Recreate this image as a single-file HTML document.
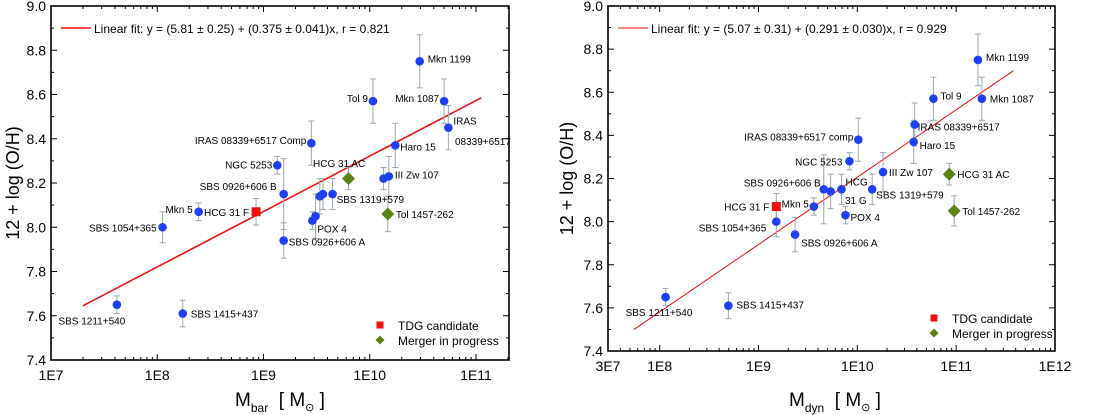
<!DOCTYPE html>
<html><head><meta charset="utf-8"><style>
html,body{margin:0;padding:0;background:#fff;}
svg{display:block;font-family:"Liberation Sans",Arial,sans-serif;}
</style></head><body>
<svg id="chart" width="1096" height="415" viewBox="0 0 1096 415" xmlns="http://www.w3.org/2000/svg"></svg>
<script>
// ---------- Left panel data ----------
const leftNames = ["SBS 1211+540","SBS 1415+437","SBS 1054+365","Mkn 5","NGC 5253","SBS 0926+606 B","SBS 0926+606 A","IRAS 08339+6517 Comp","POX 4","POX 4 b","SBS 1319+579 a","SBS 1319+579 b","SBS 1319+579","Tol 9","III Zw 107 a","III Zw 107","Haro 15","Mkn 1199","Mkn 1087","IRAS"];
const leftLogM = [7.62,8.24,8.05,8.39,9.13,9.19,9.19,9.45,9.46,9.49,9.53,9.56,9.65,10.03,10.13,10.18,10.24,10.47,10.70,10.74];
const leftOH =   [7.65,7.61,8.00,8.07,8.28,8.15,7.94,8.38,8.03,8.05,8.14,8.15,8.15,8.57,8.22,8.23,8.37,8.75,8.57,8.45];
const leftErr =  [0.04,0.06,0.07,0.04,0.04,0.16,0.08,0.10,0.04,0.10,0.08,0.07,0.07,0.10,0.05,0.09,0.10,0.12,0.10,0.10];
const leftTdgLogM = [8.93];
const leftTdgOH = [8.07];
const leftTdgErr = [0.06];
const leftMergerLogM = [9.80,10.17];
const leftMergerOH = [8.22,8.06];
const leftMergerErr = [0.05,0.08];
const leftFitX = [7.30,11.05];
const leftFitY = [7.645,8.585];

// ---------- Right panel data ----------
const rightNames = ["SBS 1211+540","SBS 1415+437","SBS 1054+365","SBS 0926+606 A","Mkn 5","SBS 0926+606 B","SBS 0926+606 b2","HCG","POX 4","NGC 5253","IRAS 08339+6517 comp","SBS 1319+579","III Zw 107","Haro 15","IRAS 08339+6517","Tol 9","Mkn 1199","Mkn 1087"];
const rightLogM = [8.06,8.695,9.18,9.37,9.56,9.66,9.73,9.84,9.88,9.92,10.01,10.15,10.26,10.57,10.58,10.77,11.22,11.26];
const rightOH =   [7.65,7.61,8.00,7.94,8.07,8.15,8.14,8.15,8.03,8.28,8.38,8.15,8.23,8.37,8.45,8.57,8.75,8.57];
const rightErr =  [0.04,0.06,0.07,0.08,0.04,0.16,0.08,0.07,0.04,0.04,0.10,0.07,0.09,0.10,0.10,0.10,0.12,0.10];
const rightTdgLogM = [9.18];
const rightTdgOH = [8.07];
const rightTdgErr = [0.06];
const rightMergerLogM = [10.93,10.98];
const rightMergerOH = [8.22,8.05];
const rightMergerErr = [0.05,0.07];
const rightFitX = [7.74,11.58];
const rightFitY = [7.50,8.70];

const yTicks = ["7.4","7.6","7.8","8.0","8.2","8.4","8.6","8.8","9.0"];
const leftXTicks = ["1E7","1E8","1E9","1E10","1E11"];
const rightXTicks = ["3E7","1E8","1E9","1E10","1E11","1E12"];

const leftLabelStyle = [[-25,20,"middle"],[8,4,"start"],[-6,4,"end"],[-6,1,"end"],[-5,3,"end"],[-7,-4,"end"],[5,5,"start"],[-5,1,"end"],[5,12,"start"],null,null,null,[4,9,"start"],[-5,1,"end"],null,[6,2,"start"],[5,5,"start"],[8,1,"start"],[-5,1,"end"],[5,-3,"start"]];
const rightLabelStyle = [[-40,19,"start"],[8,3,"start"],[-10,10,"end"],[6,12,"start"],[-5,1,"end"],[-3,-3,"end"],null,[4,-4,"start"],[5,6,"start"],[-7,4,"end"],[-5,1,"end"],[4,9,"start"],[6,4,"start"],[6,7,"start"],[3,6,"start"],[7,1,"start"],[8,1,"start"],[8,4,"start"]];

const svg = document.getElementById('chart');
const NS = "http://www.w3.org/2000/svg";
function mk(tag, attrs, parent){const e=document.createElementNS(NS,tag);for(const k in attrs)e.setAttribute(k,attrs[k]);(parent||svg).appendChild(e);return e;}

function panel(cfg){
  const g = mk('g',{});
  
  
  const X = v => cfg.x0 + (v - cfg.xmin)/(cfg.xmax - cfg.xmin)*(cfg.x1 - cfg.x0);
  const Y = v => cfg.y1 - (v - 7.4)/(1.6)*(cfg.y1 - cfg.y0);
  const fr = mk('rect',{x:cfg.x0,y:cfg.y0,width:cfg.x1-cfg.x0,height:cfg.y1-cfg.y0,fill:'none',stroke:'#000','stroke-width':1.6},g);
  
  
  for(let i=0;i<yTicks.length;i++){
    const v = parseFloat(yTicks[i]); const y = Y(v);
    mk('line',{x1:cfg.x0,x2:cfg.x0+6,y1:y,y2:y,stroke:'#000','stroke-width':1},g);
    mk('line',{x1:cfg.x1,x2:cfg.x1-6,y1:y,y2:y,stroke:'#000','stroke-width':1},g);
    if(i<yTicks.length-1){const ym=Y(v+0.1);
      mk('line',{x1:cfg.x0,x2:cfg.x0+3,y1:ym,y2:ym,stroke:'#000'},g);
      mk('line',{x1:cfg.x1,x2:cfg.x1-3,y1:ym,y2:ym,stroke:'#000'},g);}
    const t = mk('text',{x:cfg.x0-5,y:y+5,'text-anchor':'end','font-size':14,fill:'#000'},g);
    t.textContent = yTicks[i];
    
    
  }
  for(let d=Math.floor(cfg.xmin); d<=Math.ceil(cfg.xmax); d++){
    for(let m=1;m<=9;m++){
      const lv = d + Math.log10(m);
      if(lv < cfg.xmin-1e-6 || lv > cfg.xmax+1e-6) continue;
      const x = X(lv); const len = m===1?6:3;
      mk('line',{x1:x,x2:x,y1:cfg.y1,y2:cfg.y1-len,stroke:'#000'},g);
      mk('line',{x1:x,x2:x,y1:cfg.y0,y2:cfg.y0+len,stroke:'#000'},g);
    }
  }
  for(const lbl of cfg.xTicks){
    const v = Math.log10(parseFloat(lbl));
    const t = mk('text',{x:X(v),y:cfg.y1+20,'text-anchor':'middle','font-size':14,fill:'#000'},g);
    t.textContent = lbl;
    
    
  }
  const yt = mk('text',{x:0,y:0,transform:`translate(${cfg.ytx},${(cfg.y0+cfg.y1)/2}) rotate(-90)`,'text-anchor':'middle','font-size':18,fill:'#000'},g);
  yt.textContent = "12 + log (O/H)";
  
  
  const xt = mk('text',{x:cfg.xtx,y:406,'text-anchor':'middle','font-size':19,fill:'#000'},g);
  xt.innerHTML = `M<tspan font-size="12" dy="6">${cfg.sub}</tspan><tspan dy="-6" xml:space="preserve">  [ M</tspan><tspan font-size="11" dy="5">⊙</tspan><tspan dy="-5" xml:space="preserve"> ]</tspan>`;
  
  
  const fl = mk('line',{x1:X(cfg.fitX[0]),y1:Y(cfg.fitY[0]),x2:X(cfg.fitX[1]),y2:Y(cfg.fitY[1]),stroke:'#f01010','stroke-width':cfg.fitW},g);
  
  
  const lx = cfg.x0+10, ly = 28;
  const ll = mk('line',{x1:lx,x2:lx+30,y1:ly,y2:ly,stroke:'#f01010','stroke-width':cfg.fitW},g);
  
  
  const lt = mk('text',{x:lx+33,y:ly+5,'font-size':12,fill:'#000'},g);
  lt.textContent = cfg.fitText;
  
  
  function errbar(x,y,e){
    const c='#9aa8b0';
    mk('line',{x1:X(x),x2:X(x),y1:Y(y-e),y2:Y(y+e),stroke:c,'stroke-width':1},g);
    mk('line',{x1:X(x)-3,x2:X(x)+3,y1:Y(y-e),y2:Y(y-e),stroke:c},g);
    mk('line',{x1:X(x)-3,x2:X(x)+3,y1:Y(y+e),y2:Y(y+e),stroke:c},g);
  }
  for(let i=0;i<cfg.xs.length;i++) errbar(cfg.xs[i],cfg.ys[i],cfg.es[i]);
  for(let i=0;i<cfg.mx.length;i++) errbar(cfg.mx[i],cfg.my[i],cfg.me[i]);
  for(let i=0;i<cfg.tx.length;i++) errbar(cfg.tx[i],cfg.ty[i],cfg.te[i]);
  for(let i=0;i<cfg.xs.length;i++){
    const c = mk('circle',{cx:X(cfg.xs[i]),cy:Y(cfg.ys[i]),r:4.3,fill:'#1f3ff5'},g);
    
    
    const st = cfg.lab[i];
    if(st){
      const t = mk('text',{x:X(cfg.xs[i])+st[0],y:Y(cfg.ys[i])+st[1],'text-anchor':st[2],'font-size':10,fill:'#000'},g);
      t.textContent = cfg.names[i].replace(/ (a|b|b2)$/,'');
      
      
    }
  }
  for(let i=0;i<cfg.mx.length;i++){
    const x=X(cfg.mx[i]), y=Y(cfg.my[i]);
    const d = mk('polygon',{points:`${x},${y-6.5} ${x+6.5},${y} ${x},${y+6.5} ${x-6.5},${y}`,fill:'#5a8214'},g);
    
    
    if(cfg.mNames[i]){
      const t = mk('text',{x:x+8,y:y+4,'font-size':10,fill:'#000'},g);
      t.textContent = cfg.mNames[i];
      
      
    }
  }
  for(let i=0;i<cfg.tx.length;i++){
    const x=X(cfg.tx[i]), y=Y(cfg.ty[i]);
    const s = mk('rect',{x:x-4.5,y:y-4.5,width:9,height:9,fill:'#f01010'},g);
    
    
    const t = mk('text',{x:x-7,y:y+4,'text-anchor':'end','font-size':10,fill:'#000'},g);
    t.textContent = "HCG 31 F";
    
    
  }
  for(const ex of cfg.extra){
    const t = mk('text',{x:ex[1],y:Y(ex[2])+4,'font-size':10,fill:'#000'},g);
    t.textContent = ex[0];
    
    
  }
  const lgx = cfg.lgx, lgy = cfg.lgy;
  const r1 = mk('rect',{x:lgx-3.5,y:lgy-3.5,width:7,height:7,fill:'#f01010'},g);
   
  const t1 = mk('text',{x:lgx+18,y:lgy+5,'font-size':12,fill:'#000'},g); t1.textContent="TDG candidate";
   
  const y2 = lgy+15;
  const r2 = mk('polygon',{points:`${lgx},${y2-4.5} ${lgx+4.5},${y2} ${lgx},${y2+4.5} ${lgx-4.5},${y2}`,fill:'#5a8214'},g);
   
  const t2 = mk('text',{x:lgx+18,y:y2+5,'font-size':12,fill:'#000'},g); t2.textContent="Merger in progress";
   
}

panel({name:'left-panel',x0:51,x1:509,y0:6,y1:360,xmin:7,xmax:7+(509-51)/106.25,xTicks:leftXTicks,
  ytx:19,xtx:280,sub:'bar',fitX:leftFitX,fitY:leftFitY,fitW:1.6,
  fitText:"Linear fit: y = (5.81 ± 0.25) + (0.375 ± 0.041)x, r = 0.821",
  xs:leftLogM,ys:leftOH,es:leftErr,names:leftNames,lab:leftLabelStyle,
  mx:leftMergerLogM,my:leftMergerOH,me:leftMergerErr,mNames:["","Tol 1457-262"],
  tx:leftTdgLogM,ty:leftTdgOH,te:leftTdgErr,
  extra:[["HCG 31 AC",313,8.29],["08339+6517",455,8.39]],
  lgx:380,lgy:325});
panel({name:'right-panel',x0:608,x1:1055,y0:6,y1:351,xmin:Math.log10(3e7),xmax:12,xTicks:rightXTicks,
  ytx:573,xtx:835,sub:'dyn',fitX:rightFitX,fitY:rightFitY,fitW:1,
  fitText:"Linear fit: y = (5.07 ± 0.31) + (0.291 ± 0.030)x, r = 0.929",
  xs:rightLogM,ys:rightOH,es:rightErr,names:rightNames,lab:rightLabelStyle,
  mx:rightMergerLogM,my:rightMergerOH,me:rightMergerErr,mNames:["HCG 31 AC","Tol 1457-262"],
  tx:rightTdgLogM,ty:rightTdgOH,te:rightTdgErr,
  extra:[["31 G",845,8.10]],
  lgx:934,lgy:318});
</script>
</body></html>
